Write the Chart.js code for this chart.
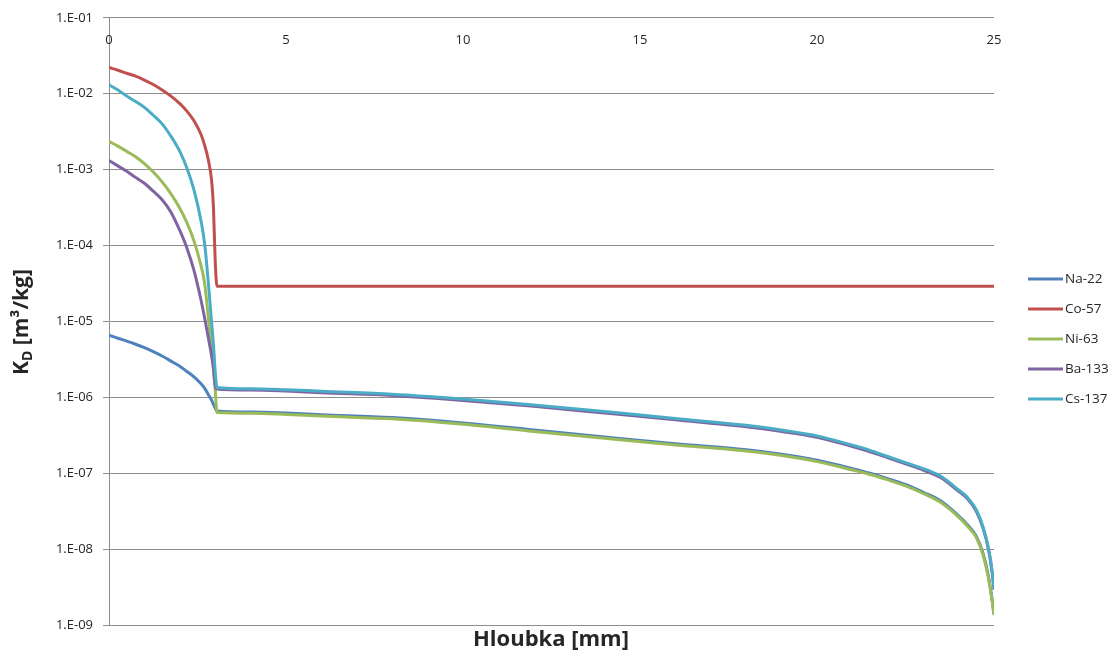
<!DOCTYPE html>
<html>
<head>
<meta charset="utf-8">
<script src="https://cdn.jsdelivr.net/npm/chart.js@4.4.1/dist/chart.umd.min.js"></script>
<style>
    html, body { margin: 0; padding: 0; background: #ffffff; }
    #wrap { width: 1116px; height: 657px; position: relative; }
</style>
</head>
<body>
<div id="wrap"><canvas id="kdChart"></canvas></div>
<script>
// Depth points [mm] shared by all series
const depths = [0, 0.25, 0.5, 0.75, 1, 1.25, 1.5, 1.75, 2, 2.2, 2.4, 2.6, 2.7, 2.8, 2.9, 2.95, 3.0, 3.05,
    4, 5, 6, 8, 10, 12, 14, 16, 18, 19, 20, 21, 21.5, 22, 22.5, 23, 23.5, 24, 24.25, 24.5, 24.7, 24.85, 24.95, 25];

const na22 = [6.6e-6, 6.0e-6, 5.5e-6, 5.0e-6, 4.5e-6, 4.0e-6, 3.5e-6, 3.0e-6, 2.57e-6, 2.19e-6, 1.86e-6, 1.51e-6, 1.32e-6, 1.1e-6, 9.1e-7, 8.1e-7, 7.2e-7, 6.6e-7,
    6.4e-7, 6.2e-7, 5.9e-7, 5.4e-7, 4.6e-7, 3.7e-7, 3.0e-7, 2.45e-7, 2.04e-7, 1.78e-7, 1.48e-7, 1.15e-7, 1.0e-7, 8.5e-8, 7.1e-8, 5.6e-8, 4.3e-8, 2.75e-8, 2.1e-8, 1.48e-8, 8.5e-9, 4.2e-9, 2.1e-9, 1.4e-9];
const co57 = [2.21e-2, 2.04e-2, 1.86e-2, 1.70e-2, 1.51e-2, 1.32e-2, 1.12e-2, 9.3e-3, 7.4e-3, 5.9e-3, 4.4e-3, 2.9e-3, 2.1e-3, 1.38e-3, 7.1e-4, 3.2e-4, 6.3e-5, 2.9e-5,
    2.9e-5, 2.9e-5, 2.9e-5, 2.9e-5, 2.9e-5, 2.9e-5, 2.9e-5, 2.9e-5, 2.9e-5, 2.9e-5, 2.9e-5, 2.9e-5, 2.9e-5, 2.9e-5, 2.9e-5, 2.9e-5, 2.9e-5, 2.9e-5, 2.9e-5, 2.9e-5, 2.9e-5, 2.9e-5, 2.9e-5, 2.9e-5];
const ni63 = [2.35e-3, 2.04e-3, 1.74e-3, 1.48e-3, 1.2e-3, 9.3e-4, 6.9e-4, 4.8e-4, 3.1e-4, 2.0e-4, 1.15e-4, 5.4e-5, 3.2e-5, 1.2e-5, 4.2e-6, 2.45e-6, 1.26e-6, 6.3e-7,
    6.15e-7, 5.95e-7, 5.65e-7, 5.2e-7, 4.4e-7, 3.55e-7, 2.88e-7, 2.35e-7, 1.96e-7, 1.71e-7, 1.42e-7, 1.1e-7, 9.6e-8, 8.15e-8, 6.8e-8, 5.4e-8, 4.1e-8, 2.64e-8, 2.0e-8, 1.42e-8, 8.1e-9, 4.0e-9, 2.0e-9, 1.35e-9];
const ba133 = [1.32e-3, 1.12e-3, 9.5e-4, 7.9e-4, 6.6e-4, 5.2e-4, 4.0e-4, 2.75e-4, 1.58e-4, 9.3e-5, 4.7e-5, 1.9e-5, 1.12e-5, 6.3e-6, 3.5e-6, 2.4e-6, 1.41e-6, 1.29e-6,
    1.25e-6, 1.21e-6, 1.15e-6, 1.06e-6, 9.1e-7, 7.6e-7, 6.2e-7, 5.05e-7, 4.1e-7, 3.55e-7, 2.98e-7, 2.25e-7, 1.92e-7, 1.6e-7, 1.33e-7, 1.1e-7, 8.7e-8, 5.75e-8, 4.6e-8, 3.15e-8, 1.82e-8, 9.6e-9, 4.8e-9, 2.9e-9];
const cs137 = [1.31e-2, 1.12e-2, 9.3e-3, 7.9e-3, 6.6e-3, 5.2e-3, 4.0e-3, 2.75e-3, 1.74e-3, 1.05e-3, 5.4e-4, 2.1e-4, 1.07e-4, 3.5e-5, 9.5e-6, 5.0e-6, 2.2e-6, 1.35e-6,
    1.30e-6, 1.26e-6, 1.20e-6, 1.10e-6, 9.5e-7, 7.9e-7, 6.5e-7, 5.25e-7, 4.27e-7, 3.7e-7, 3.1e-7, 2.34e-7, 2.0e-7, 1.66e-7, 1.38e-7, 1.15e-7, 9.1e-8, 6.0e-8, 4.8e-8, 3.3e-8, 1.9e-8, 1.0e-8, 5.0e-9, 3.0e-9];

const seriesNames = ['Na-22', 'Co-57', 'Ni-63', 'Ba-133', 'Cs-137'];
const seriesColors = ['#4F81BD', '#C0504D', '#9BBB59', '#8064A2', '#4BACC6'];

const xTicks = [0, 5, 10, 15, 20, 25];
const yTicks = [1e-9, 1e-8, 1e-7, 1e-6, 1e-5, 1e-4, 1e-3, 1e-2, 1e-1];

const gridColor = '#8e8e8e';
const textColor = '#262626';
const fontFamily = '"Open Sans", sans-serif';

function toPoints(values) {
    return depths.map((d, i) => ({ x: d, y: values[i] }));
}

function formatTick(v) {
    const exp = Math.round(Math.log10(v));
    const sign = exp < 0 ? '-' : '+';
    return '1.E' + sign + String(Math.abs(exp)).padStart(2, '0');
}

// Titles, top x labels and the legend are drawn here
const decorPlugin = {
    id: 'decor',
    afterDraw(chart) {
        const ctx = chart.ctx;
        const area = chart.chartArea;
        const xScale = chart.scales.x;

        ctx.save();
        ctx.fillStyle = textColor;

        // x tick labels sit just under the top border
        ctx.font = '13px ' + fontFamily;
        ctx.textAlign = 'center';
        ctx.textBaseline = 'middle';
        xTicks.forEach(t => {
            ctx.fillText(String(t), xScale.getPixelForValue(t), area.top + 22);
        });

        // x title
        ctx.font = 'bold 22px ' + fontFamily;
        ctx.fillText('Hloubka [mm]', 551, 640);

        // y title with subscript D
        ctx.translate(22, 322);
        ctx.rotate(-Math.PI / 2);
        const big = 'bold 21px ' + fontFamily;
        const small = 'bold 14px ' + fontFamily;
        ctx.font = big;
        const wK = ctx.measureText('K').width;
        const wRest = ctx.measureText(' [m³/kg]').width;
        ctx.font = small;
        const wD = ctx.measureText('D').width;
        const x0 = -(wK + wD + wRest) / 2;
        ctx.textAlign = 'left';
        ctx.textBaseline = 'middle';
        ctx.font = big;
        ctx.fillText('K', x0, 0);
        ctx.font = small;
        ctx.fillText('D', x0 + wK, 6);
        ctx.font = big;
        ctx.fillText(' [m³/kg]', x0 + wK + wD, 0);
        ctx.restore();

        // legend
        ctx.save();
        ctx.font = '13.5px ' + fontFamily;
        ctx.textAlign = 'left';
        ctx.textBaseline = 'middle';
        chart.data.datasets.forEach((ds, i) => {
            const y = 279 + i * 30;
            ctx.strokeStyle = ds.borderColor;
            ctx.lineWidth = 3;
            ctx.beginPath();
            ctx.moveTo(1028, y);
            ctx.lineTo(1063, y);
            ctx.stroke();
            ctx.fillStyle = textColor;
            ctx.fillText(ds.label, 1065, y);
        });
        ctx.restore();
    }
};

const allSeries = [na22, co57, ni63, ba133, cs137];

new Chart(document.getElementById('kdChart'), {
    type: 'line',
    data: {
        datasets: allSeries.map((vals, i) => ({
            label: seriesNames[i],
            data: toPoints(vals),
            borderColor: seriesColors[i],
            backgroundColor: seriesColors[i],
            borderWidth: 3,
            pointRadius: 0,
            cubicInterpolationMode: 'monotone',
            order: allSeries.length - i
        }))
    },
    options: {
        responsive: true,
        maintainAspectRatio: false,
        animation: false,
        layout: { padding: { top: 15, bottom: 32, right: 122, left: 0 } },
        plugins: {
            legend: { display: false },
            tooltip: { enabled: false }
        },
        scales: {
            x: {
                type: 'linear',
                position: 'top',
                min: 0,
                max: 25,
                grid: { display: false },
                border: { display: false },
                ticks: { display: false },
                afterFit(scale) { scale.height = 0; }
            },
            y: {
                type: 'logarithmic',
                min: 1e-9,
                max: 1e-1,
                afterBuildTicks(scale) {
                    scale.ticks = yTicks.map(v => ({ value: v, major: true }));
                },
                afterFit(scale) { scale.width = 109; },
                grid: { color: gridColor, lineWidth: 1, tickLength: 6 },
                border: { color: gridColor, width: 1 },
                ticks: {
                    color: textColor,
                    padding: 10,
                    font: { family: fontFamily, size: 13 },
                    callback: (v) => formatTick(v)
                }
            }
        }
    },
    plugins: [decorPlugin]
});
</script>
</body>
</html>
